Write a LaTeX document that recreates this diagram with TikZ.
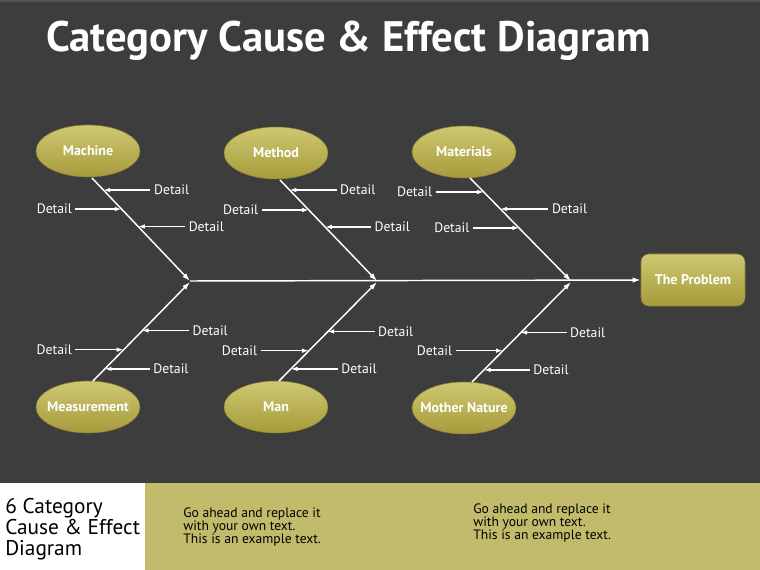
\documentclass[tikz,border=0pt]{standalone}
\usepackage{fontspec}
\setsansfont{PT Sans}
\usetikzlibrary{shapes.geometric,arrows.meta,calc}
\definecolor{bg}{HTML}{3D3D3D}
\definecolor{band}{HTML}{C2BB6C}
\definecolor{oltop}{HTML}{CFC872}
\definecolor{olbot}{HTML}{A59B3A}
\definecolor{oledge}{HTML}{8A8230}
\newcommand\dtlR[5]{%
  \coordinate (#5p) at ($(#1)!#3!(#2)$);
  \node[detail,anchor=west] (#5) at ($(#5p)+(#4,0)$) {Detail};
  \draw[darr] (#5.west) -- (#5p);}
\newcommand\dtlL[5]{%
  \coordinate (#5p) at ($(#1)!#3!(#2)$);
  \node[detail,anchor=east] (#5) at ($(#5p)+(-#4,0)$) {Detail};
  \draw[darr] (#5.east) -- (#5p);}
\newcommand\cattxt[1]{\makebox[0pt]{#1}}
\begin{document}
\begin{tikzpicture}[x=0.75pt,y=-0.75pt,
  cat/.style={ellipse,minimum width=78pt,minimum height=39pt,top color=oltop,bottom color=olbot,draw=oledge,line width=0.4pt,text=white,font=\sffamily\bfseries\fontsize{10.5}{12}\selectfont,inner sep=0pt},
  prob/.style={rectangle,rounded corners=6pt,minimum width=78pt,minimum height=39pt,top color=oltop,bottom color=olbot,draw=oledge,line width=0.4pt,text=white,font=\sffamily\bfseries\fontsize{10.5}{12}\selectfont},
  detail/.style={text=white,font=\sffamily\fontsize{10.3}{12}\selectfont,inner sep=2.5pt},
  bone/.style={draw=white,line width=1.1pt,-{Latex[length=6pt,width=4pt]}},
  darr/.style={draw=white,line width=1.1pt,-{Latex[length=5pt,width=3.5pt]}},
  btext/.style={text=black,font=\sffamily\fontsize{10.2}{9.75}\selectfont,align=left,anchor=north west,inner sep=0pt}]
\useasboundingbox (0,0) rectangle (760,570);
\fill[bg] (0,0) rectangle (760,570);
\fill[white!12!bg] (0,0) rectangle (760,2);
\fill[white] (0,483) rectangle (145,570);
\fill[band] (145,483) rectangle (760,570);
% title
\node[anchor=base west,text=white,font=\sffamily\bfseries\fontsize{32}{36}\selectfont,inner sep=0pt] (title) at (46,52) {Category Cause \& Effect Diagram};
% categories
\node[cat] (mach) at (88,151) {\cattxt{Machine}};
\node[cat] (meth) at (276,153) {\cattxt{Method}};
\node[cat] (matl) at (464,152) {\cattxt{Materials}};
\node[cat] (meas) at (88,407) {\cattxt{Measurement}};
\node[cat] (man) at (276,407) {\cattxt{Man}};
\node[cat] (moth) at (464,408) {\cattxt{Mother Nature}};
\node[prob] (prob) at (693,280) {The Problem};
% spine
\coordinate (j1) at (190,281);
\coordinate (j2) at (377,281);
\coordinate (j3) at (571,281);
\draw[bone] (j1) -- (prob.west);
% bones
\coordinate (s1) at (92,178);
\coordinate (s2) at (280,180);
\coordinate (s3) at (470,178);
\coordinate (s4) at (93,381);
\coordinate (s5) at (279,381);
\coordinate (s6) at (472,382);
\draw[bone] (s1) -- (j1);
\draw[bone] (s2) -- (j2);
\draw[bone] (s3) -- (j3);
\draw[bone] (s4) -- ($(j1)+(0,1)$);
\draw[bone] (s5) -- ($(j2)+(0,1)$);
\draw[bone] (s6) -- ($(j3)+(0,1)$);
% details
\dtlR{s1}{j1}{0.117}{47}{d11}
\dtlL{s1}{j1}{0.301}{46}{d12}
\dtlR{s1}{j1}{0.471}{47}{d13}
\dtlR{s2}{j2}{0.099}{47}{d21}
\dtlL{s2}{j2}{0.297}{47}{d22}
\dtlR{s2}{j2}{0.465}{46}{d23}
\dtlL{s3}{j3}{0.136}{48}{d31}
\dtlR{s3}{j3}{0.301}{48}{d32}
\dtlL{s3}{j3}{0.485}{46}{d33}
\dtlR{s4}{j1}{0.505}{47}{d41}
\dtlL{s4}{j1}{0.313}{48}{d42}
\dtlR{s4}{j1}{0.121}{45}{d43}
\dtlR{s5}{j2}{0.495}{47}{d51}
\dtlL{s5}{j2}{0.303}{48}{d52}
\dtlR{s5}{j2}{0.121}{47}{d53}
\dtlR{s6}{j3}{0.49}{46}{d61}
\dtlL{s6}{j3}{0.31}{47}{d62}
\dtlR{s6}{j3}{0.12}{46}{d63}
% bottom band
\node[anchor=north west,align=left,inner sep=0pt,text=black,font=\sffamily\fontsize{16}{15.75}\selectfont] (side) at (5,498) {6 Category\\Cause \& Effect\\Diagram};
\node[btext] (t1) at (183,508) {Go ahead and replace it\\with your own text.\\This is an example text.};
\node[btext] (t2) at (473,504) {Go ahead and replace it\\with your own text.\\This is an example text.};
\end{tikzpicture}
\end{document}
